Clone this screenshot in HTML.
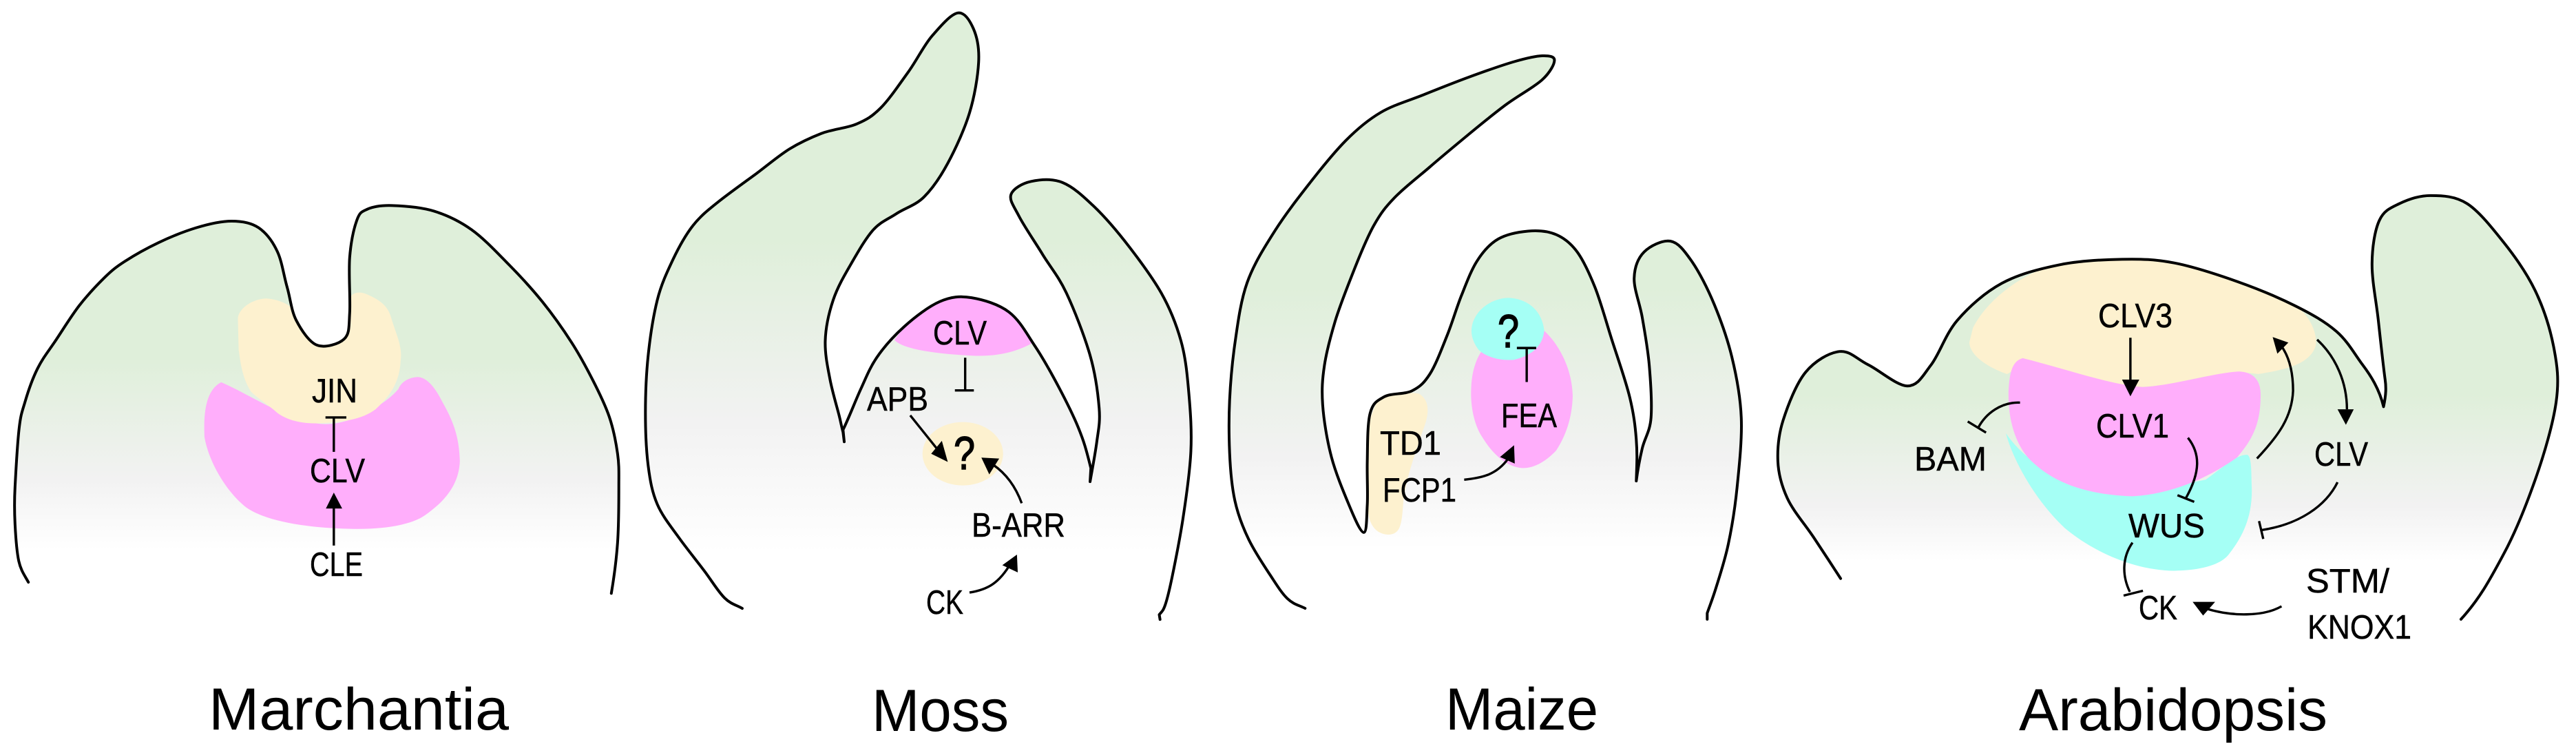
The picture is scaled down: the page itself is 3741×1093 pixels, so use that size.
<!DOCTYPE html>
<html>
<head>
<meta charset="utf-8">
<style>
html,body{margin:0;padding:0;background:#fff}
svg{display:block}
.o{stroke:#000;stroke-width:4;stroke-linecap:round;stroke-linejoin:round;fill:none}
.l{stroke:#000;stroke-width:3.4;fill:none;stroke-linecap:butt;vector-effect:non-scaling-stroke}
text{font-family:"Liberation Sans",sans-serif;fill:#000}
.s{font-size:49px;stroke:#000;stroke-width:.5px}
.b{font-size:86px}
.q{font-size:68px;stroke:#000;stroke-width:1.5px}
</style>
</head>
<body>
<svg xmlns="http://www.w3.org/2000/svg" width="3741" height="1093" viewBox="0 0 3741 1093">
<defs>
<linearGradient id="g1" gradientUnits="userSpaceOnUse" x1="0" x2="0" y1="500" y2="1020"><stop offset="0" stop-color="#dfefda"/><stop offset=".635" stop-color="#f2f2f2"/><stop offset="1" stop-color="#fff"/></linearGradient>
<linearGradient id="g2" gradientUnits="userSpaceOnUse" x1="0" x2="0" y1="500" y2="1150"><stop offset="0" stop-color="#dfefda"/><stop offset=".585" stop-color="#f2f2f2"/><stop offset="1" stop-color="#fff"/></linearGradient>
<linearGradient id="g3" gradientUnits="userSpaceOnUse" x1="0" x2="0" y1="500" y2="1100"><stop offset="0" stop-color="#dfefda"/><stop offset=".65" stop-color="#f2f2f2"/><stop offset="1" stop-color="#fff"/></linearGradient>
<linearGradient id="g4" gradientUnits="userSpaceOnUse" x1="0" x2="0" y1="600" y2="1050"><stop offset="0" stop-color="#dfefda"/><stop offset=".667" stop-color="#f2f2f2"/><stop offset="1" stop-color="#fff"/></linearGradient>
<path id="p1" vector-effect="non-scaling-stroke" d="M68,1107 C60,1090 50,1076 45,1050 S37.5,983 36,950 S34,893 36,850 S42,728 46,690 S53,647 60,620 S78,557 90,530 S113,488 130,460 S170,389 190,360 S232,305 250,285 S278,256 300,240 S352,205 380,190 S441,160 470,150 S530,132 555,132 S602,136 620,150 S654,188 665,215 S680,279 688,310 S698,374 710,400 S741,459 760,467 S812,464 825,450 S836,417 838,380 S835,272 838,230 S848,152 855,130 S866,107 880,100 S913,89 940,90 S1008,94 1040,105 S1100,131 1130,155 S1192,218 1220,250 S1275,315 1300,350 S1350,425 1370,460 S1405,527 1420,560 S1450,627 1460,660 S1476,728 1480,760 S1483,810 1483,850 S1483,952 1480,1000 S1472,1090 1465,1137"/>
<path id="p2" vector-effect="non-scaling-stroke" d="M310,1267 C295,1260 281,1258 265,1245 S234,1211 215,1190 S170,1143 150,1120 S108,1075 95,1050 S77,1002 72,970 S65,898 65,860 S67,779 72,740 S85,658 95,625 S120,566 135,540 S166,490 185,470 S224,437 250,420 S310,383 340,365 S402,324 430,310 S482,287 510,278 S575,267 600,258 S638,243 660,225 S708,175 730,150 S769,95 790,75 S837.5,29.5 855,27 S886,43 895,60 S910,101 908,130 S898,200 885,235 S849,311 830,340 S792,392 770,410 S722,433 700,445 S659,462 640,480 S602,526 585,550 S551,598 540,625 S521,682 520,710 S526,764 532,790 S549.5,847 555,865 S560,885 565,900 L568,920 L565,895 C580,870 596,835 610,810 S632,767 650,745 S693,700 720,680 S782,638 810,628 S861,616 890,620 S958,633 985,650 S1029,694 1050,720 S1092,777 1110,805 S1146,862 1160,890 S1180,935 1192,975 L1190,1003 C1196,975 1203,945 1207,920 S1216,880 1213,850 S1204,780 1190,740 S1150,645 1130,610 S1090,557 1070,530 S1023,471 1010,450 S985,417 990,405 S1018,382 1040,378 S1093,371 1120,380 S1172,408 1200,430 S1262,485 1290,515 S1348,578 1370,610 S1408,675 1420,710 S1436,782 1440,820 S1447.5,897 1445,940 S1433,1037 1425,1080 S1405.5,1170 1398,1200 S1385.5,1247 1380,1260 S1372,1273 1365,1280 L1367,1290"/>
<path id="p3" vector-effect="non-scaling-stroke" d="M285,1237 C268,1230 252,1228 235,1215 S203,1182 185,1160 S142,1108 125,1080 S94,1023 85,990 S72,918 70,880 S67.5,802 70,760 S77,675 85,630 S101,533 120,490 S170,408 200,370 S267,294 300,260 S367,192 400,165 S463,117.5 500,100 S578,73.5 620,60 S707,32 751,19 S847,-9 882,-17 S941,-29.5 960,-30 S995,-29 995,-20 S983,8 960,25 S894,60 857,82 S775,134 739,158 S673,202 640,225 S567,272.5 540,295 S500,331 480,360 S438,433 420,470 S383,545 370,580 S346,648 340,680 S332,735 335,770 S347.5,852 360,890 S395,971 410,1000 S443,1063 452,1063 S460,1027 462,1000 S461,935 462,900 S462,815 470,790 S490,761 510,752 S568,747 590,738 S623,721 640,700 S675,640 690,610 S716,548 730,520 S757.5,462 775,440 S811,401 835,390 S892.5,374 920,372 S977,372 1000,380 S1042,400 1060,420 S1093,466 1110,500 S1143,582.5 1160,625 S1199,717.5 1210,755 S1225,818 1228,850 S1230,900 1228,945 C1232,920 1238,894 1245,870 S1267,832 1270,800 S1269,718 1265,680 S1252,603 1245,570 S1221,505 1222,480 S1233,434 1250,420 S1302.5,392 1325,395 S1364,416 1385,440 S1431,503 1450,540 S1487,617 1500,660 S1524.5,750 1527,800 S1521,912 1515,960 S1500,1052 1490,1090 S1465,1164 1455,1190 S1440,1225 1430,1248 L1430,1262"/>
<path id="p4" vector-effect="non-scaling-stroke" d="M162,1097 C145,1060 127,1021 110,985 S71,914 60,880 S43,815 42,780 S43,710 52,670 S77,571 95,540 S140,487 160,484 S193,504.5 215,520 S270,577 290,577 S319,549.5 335,520 S362.5,437 385,400 S437.5,325 470,300 S542,261 580,250 S663,236 700,235 S763,235 800,245 S882,276 920,295 S998,337.5 1030,360 S1088,403 1110,430 S1145,492 1160,520 S1192,585 1200,633 C1205,600 1205,580 1203,560 S1194,452 1190,400 S1178,295 1178,250 S1183,157.5 1192,130 S1214,96 1230,85 S1268,63 1290,63 S1337,64 1360,85 S1408,151 1430,190 S1474,273 1490,320 S1518,420 1525,470 S1536,560 1530,620 S1507,762 1490,830 S1454,967 1430,1030 S1385,1150 1348,1207"/>
</defs>

<!-- Marchantia -->
<g transform="translate(0,250) scale(.606,.5376)">
<use href="#p1" fill="url(#g1)"/>
<path fill="#ffaefb" d="M530,567 C490,590 488,660 490,715 C500,780 540,860 590,905 C640,945 750,963 860,963 C930,963 990,950 1020,925 C1070,885 1100,840 1102,780 C1100,710 1085,670 1060,620 C1040,575 1020,553 1000,553 C975,555 960,570 955,585 C930,620 850,680 780,680 C700,680 600,600 530,567Z"/>
<path fill="#fdf1cf" d="M570,395 C572,365 610,340 640,341 C665,343 690,355 697,365 C705,400 720,440 760,467 C790,466 815,465 828,440 C838,420 838,380 838,340 C845,325 860,320 880,330 C910,345 930,360 938,395 C950,440 965,470 960,510 C958,560 940,600 900,640 C870,665 830,675 760,678 C720,678 690,670 665,650 C640,625 610,605 600,590 C578,550 575,500 572,480 Z"/>
<use href="#p1" class="o"/>
<path class="l" d="M800,755V662M780,662H830M800,1008V900"/>
<polygon points="800,865 781,908 820,908"/>
</g>
<text class="s" x="453" y="584" textLength="66" lengthAdjust="spacingAndGlyphs">JIN</text>
<text class="s" x="450" y="700" textLength="80" lengthAdjust="spacingAndGlyphs">CLV</text>
<text class="s" x="450" y="836" textLength="77" lengthAdjust="spacingAndGlyphs">CLE</text>
<text class="b" x="303" y="1059" textLength="436" lengthAdjust="spacingAndGlyphs">Marchantia</text>

<!-- Moss -->
<g transform="translate(900,0) scale(.574,.697)">
<use href="#p2" fill="url(#g2)"/>
<path fill="#ffaefb" d="M695,708 L720,680 C747,660 782,638 810,628 C838,618 861,616 890,620 C919,624 958,633 985,650 C1012,667 1029,694 1045,714 C1000,735 950,742 900,741 C820,738 720,730 695,708Z"/>
<ellipse cx="868" cy="945" rx="102" ry="66" fill="#fdf1cf"/>
<use href="#p2" class="o"/>
<path class="l" d="M874,745V813M848,813H896M735,865L808,940M1017,1048C1000,1010 975,985 945,968M885,1234C930,1228 960,1215 990,1172"/>
<polygon points="830,962 788,945 815,918"/>
<polygon points="915,953 960,955 935,988"/>
<polygon points="1005,1155 1007,1192 968,1177"/>
</g>
<text class="s" x="1355" y="500" textLength="78" lengthAdjust="spacingAndGlyphs">CLV</text>
<text class="s" x="1259" y="596" textLength="89" lengthAdjust="spacingAndGlyphs">APB</text>
<text class="q" x="1385" y="681" textLength="31" lengthAdjust="spacingAndGlyphs">?</text>
<text class="s" x="1411" y="779" textLength="136" lengthAdjust="spacingAndGlyphs">B-ARR</text>
<text class="s" x="1345" y="891" textLength="54" lengthAdjust="spacingAndGlyphs">CK</text>
<text class="b" x="1266" y="1061" textLength="199" lengthAdjust="spacingAndGlyphs">Moss</text>

<!-- Maize -->
<g transform="translate(1750,100) scale(.51,.633)">
<use href="#p3" fill="url(#g3)"/>
<path fill="#fdf1cf" d="M490,760 C530,745 580,740 610,745 C640,760 640,790 620,830 C600,880 575,930 565,990 C560,1040 560,1068 520,1068 C480,1065 465,1040 462,1000 L462,820 Z"/>
<path fill="#ffaefb" d="M965,600 C1000,625 1045,680 1047,750 C1045,810 1020,850 1000,875 C965,905 930,917 900,915 C860,912 820,885 790,845 C765,815 755,770 758,730 C760,690 775,660 790,645 Z"/>
<path fill="#a5fff5" d="M760,590 C770,550 820,525 865,525 C920,527 960,555 966,600 C962,630 940,655 880,667 C840,670 800,660 780,645 C765,630 755,610 760,590Z"/>
<use href="#p3" class="o"/>
<path class="l" d="M916,718V640M888,640H943M738,942C790,938 830,930 862,895"/>
<polygon points="880,863 882,905 840,890"/>
</g>
<text class="q" x="2175" y="504" textLength="31" lengthAdjust="spacingAndGlyphs">?</text>
<text class="s" x="2180" y="620" textLength="81" lengthAdjust="spacingAndGlyphs">FEA</text>
<text class="s" x="2004" y="660" textLength="89" lengthAdjust="spacingAndGlyphs">TD1</text>
<text class="s" x="2008" y="728" textLength="107" lengthAdjust="spacingAndGlyphs">FCP1</text>
<text class="b" x="2099" y="1059" textLength="222" lengthAdjust="spacingAndGlyphs">Maize</text>

<!-- Arabidopsis -->
<g transform="translate(2550,250) scale(.7596,.5376)">
<use href="#p4" fill="url(#g4)"/>
<path fill="#fdf1cf" d="M415,420 C440,350 500,280 570,250 C640,228 730,226 800,245 C870,265 960,310 1030,360 C1060,385 1075,440 1070,470 C1060,510 1030,530 960,545 C920,535 880,545 830,560 C790,575 750,580 720,580 C660,565 580,530 510,502 C500,520 490,540 480,545 C450,530 410,500 408,460 Z"/>
<path fill="#a5fff5" d="M478,705 C490,770 530,880 590,960 C640,1020 720,1075 800,1076 C850,1075 890,1060 905,1030 C930,985 950,930 948,850 C947,810 948,770 940,763 C920,760 890,800 860,830 L720,870 C600,860 520,790 478,705Z"/>
<path fill="#ffaefb" d="M510,502 C490,510 485,540 483,590 C482,650 490,720 520,770 C560,830 620,870 720,875 C790,870 860,830 920,770 C950,720 965,680 965,600 C965,560 950,540 925,538 C880,540 800,575 740,580 C680,575 590,530 510,502Z"/>
<use href="#p4" class="o"/>
<path class="l" d="M716,447V565M958,773C1000,710 1025,660 1027,590C1027,540 1020,500 1005,470M1073,452C1110,500 1130,570 1130,640M505,622C470,620 440,650 425,690M405,673L440,703M826,717C850,760 850,810 822,880M806,872L838,890M1112,837C1090,900 1040,950 968,966M962,942L970,990M720,1000C700,1040 700,1090 715,1133M703,1143L740,1130M1005,1172C970,1200 910,1200 860,1178"/>
<polygon points="716,605 700,560 733,560"/>
<polygon points="988,445 1018,460 997,490"/>
<polygon points="1128,682 1112,640 1143,640"/>
<polygon points="835,1160 878,1160 855,1197"/>
</g>
<text class="s" x="3047" y="475" textLength="108" lengthAdjust="spacingAndGlyphs">CLV3</text>
<text class="s" x="3044" y="635" textLength="106" lengthAdjust="spacingAndGlyphs">CLV1</text>
<text class="s" x="2780" y="683" textLength="105" lengthAdjust="spacingAndGlyphs">BAM</text>
<text class="s" x="3361" y="676" textLength="78" lengthAdjust="spacingAndGlyphs">CLV</text>
<text class="s" x="3091" y="780" textLength="111" lengthAdjust="spacingAndGlyphs">WUS</text>
<text class="s" x="3106" y="899" textLength="56" lengthAdjust="spacingAndGlyphs">CK</text>
<text class="s" x="3349" y="860" textLength="121" lengthAdjust="spacingAndGlyphs">STM/</text>
<text class="s" x="3351" y="927" textLength="151" lengthAdjust="spacingAndGlyphs">KNOX1</text>
<text class="b" x="2932" y="1060" textLength="448" lengthAdjust="spacingAndGlyphs">Arabidopsis</text>
</svg>
</body>
</html>
